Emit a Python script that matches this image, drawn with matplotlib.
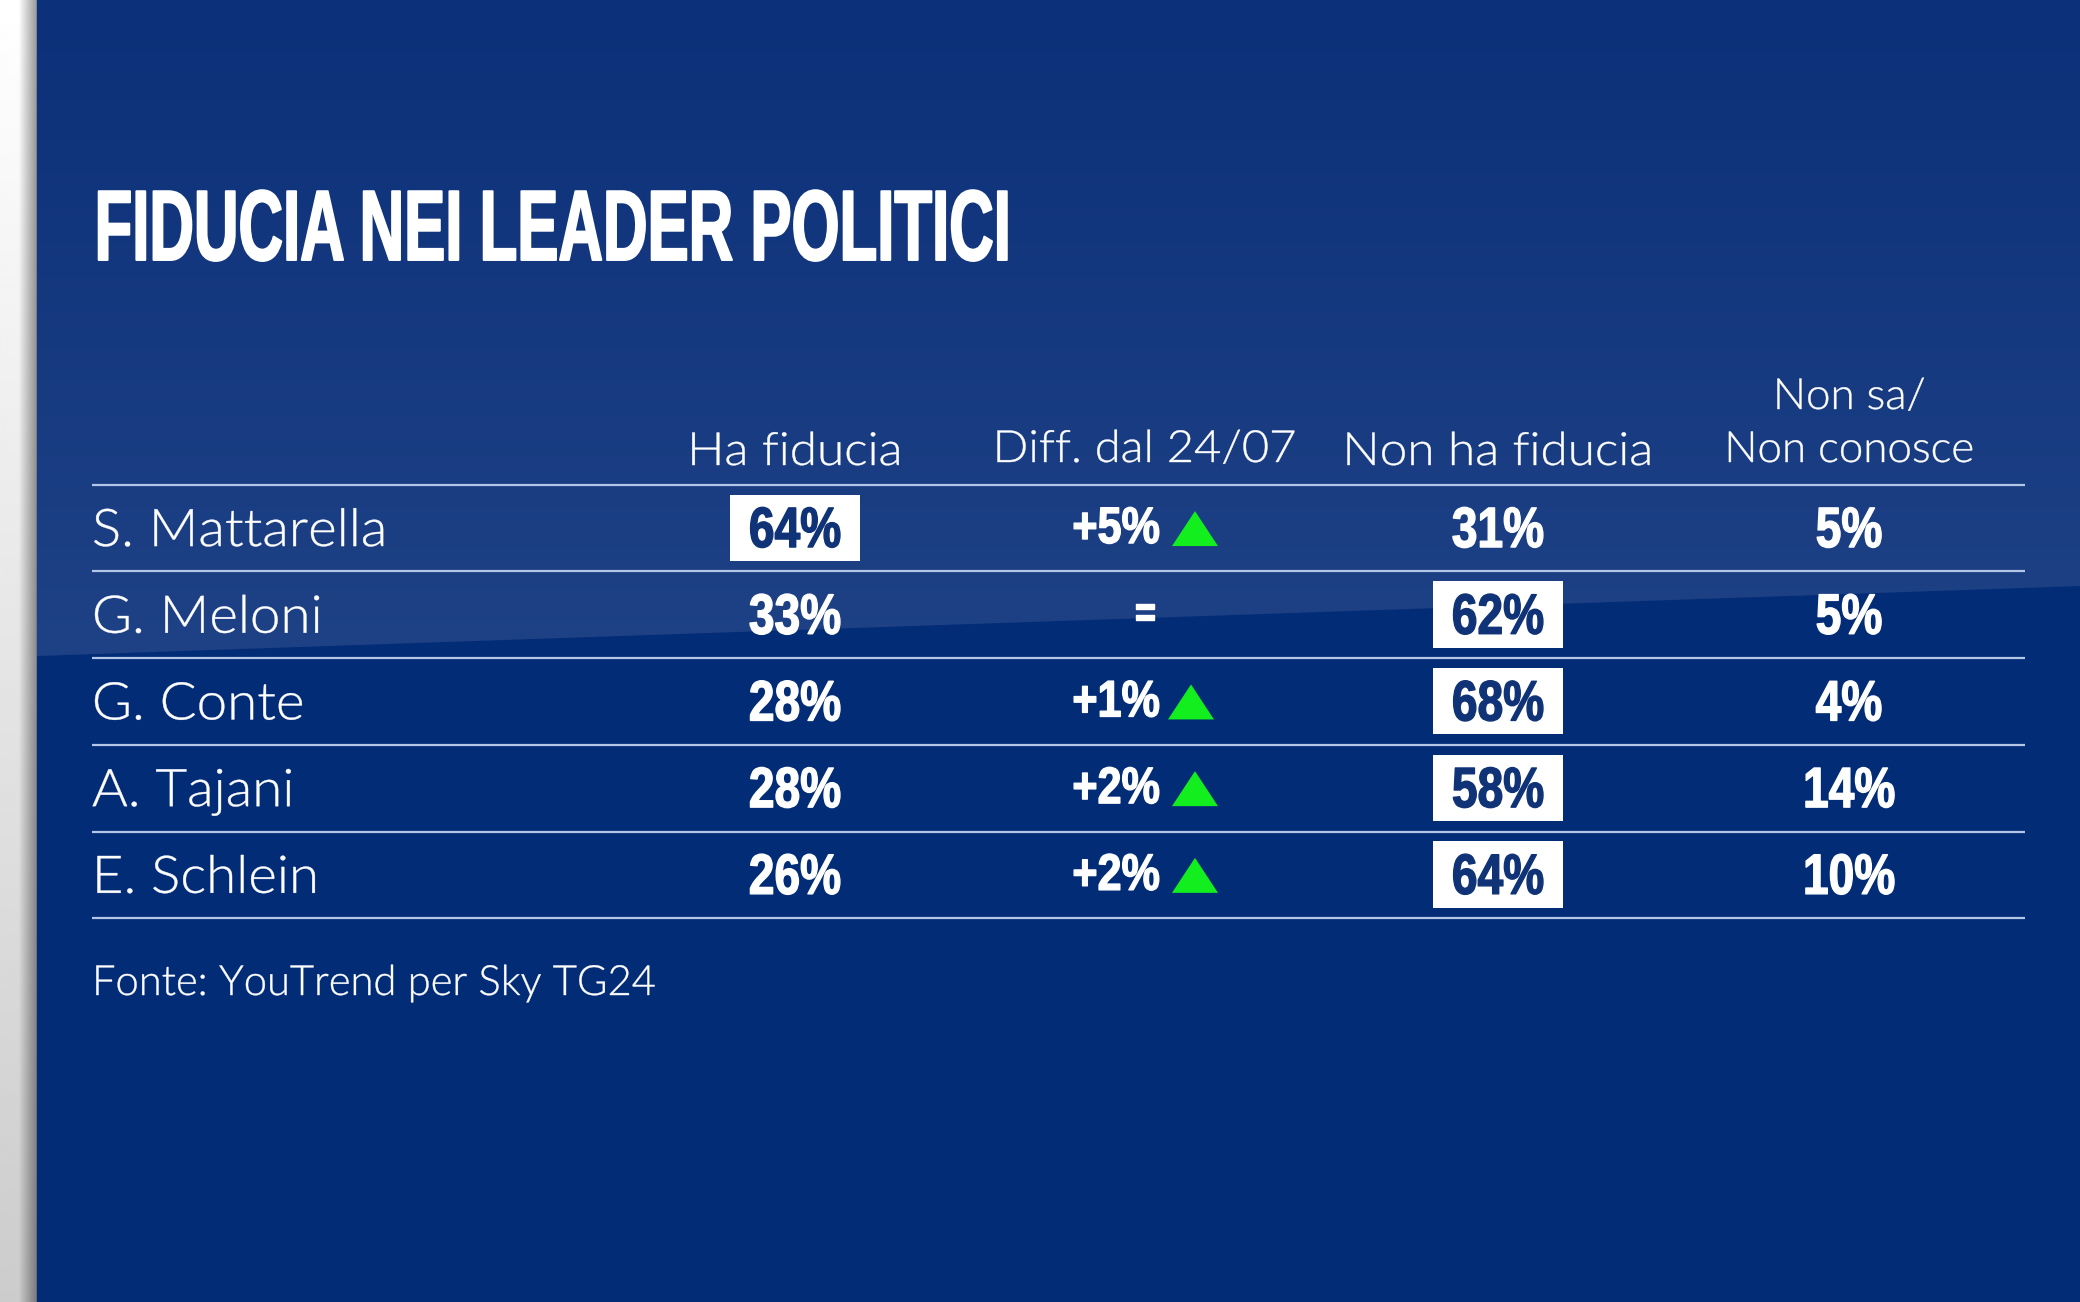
import numpy as np
from matplotlib import pyplot as plt
from matplotlib.patches import Polygon, Rectangle
from matplotlib.patheffects import AbstractPathEffect
from matplotlib.transforms import Affine2D

# table values
names = ["S. Mattarella", "G. Meloni", "G. Conte", "A. Tajani", "E. Schlein"]
ha_fiducia = [64, 33, 28, 28, 26]
diff = [5, 0, 1, 2, 2]
non_ha_fiducia = [31, 62, 68, 58, 64]
non_sa = [5, 5, 4, 14, 10]

title = "FIDUCIA NEI LEADER POLITICI"
source = "Fonte: YouTrend per Sky TG24"

W, H = 2080, 1302
PANEL_X = 37
LEFT, RIGHT = 92, 2025
ROW_TOP, ROW_H = 484.7, 86.7
COL_HA, COL_DIFF, COL_NON, COL_SA = 795, 1145, 1498, 1849

BOLD = "Liberation Sans"
LIGHT = "Lato"

DARK = "#032C77"
TEXT_DARK = "#0F3376"
LINE = "#B4C6E6"
GREEN = "#12EE1E"


class Squeeze(AbstractPathEffect):
    # no condensed font here, so squeeze the glyphs sideways and fatten them a bit
    def __init__(self, sx, stroke=0, centered=True):
        super().__init__()
        self.sx = sx
        self.stroke = stroke
        self.centered = centered

    def draw_path(self, renderer, gc, tpath, affine, rgbFace=None):
        ext = tpath.get_extents()
        cx = (ext.x0 + ext.x1) / 2 if self.centered else ext.x0
        t = Affine2D().translate(-cx, 0).scale(self.sx, 1).translate(cx, 0) + affine
        gc0 = renderer.new_gc()
        gc0.copy_properties(gc)
        gc0.set_linewidth(self.stroke)
        if self.stroke > 0:
            gc0.set_foreground(rgbFace)
        renderer.draw_path(gc0, tpath, t, rgbFace)
        gc0.restore()


fig = plt.figure(figsize=(W / 100, H / 100), dpi=100)
ax = fig.add_axes([0, 0, 1, 1])

# grey strip on the left, lighter at the top
strip = np.linspace(1.0, 0.80, 200)[:, None] * np.ones((200, 40))
strip[:, 20:] *= np.linspace(1, 0.72, 20) ** 1.5
ax.imshow(strip, extent=[0, PANEL_X, H, 0], cmap="gray", vmin=0, vmax=1, aspect="auto", zorder=0)

ax.add_patch(Rectangle((PANEL_X, 0), W - PANEL_X, H, color=DARK, zorder=1))

# lighter upper band with slanted lower edge
top_col = np.array([0x0C, 0x30, 0x79]) / 255
bot_col = np.array([0x1F, 0x42, 0x86]) / 255
grad = np.linspace(0, 1, 300)[:, None, None] * (bot_col - top_col) + top_col
im = ax.imshow(grad, extent=[PANEL_X, W, 660, 0], aspect="auto", zorder=2)
band = Polygon([(PANEL_X, 0), (W, 0), (W, 586), (PANEL_X, 656)], closed=True, transform=ax.transData)
im.set_clip_path(band)
ax.set_xlim(0, W)
ax.set_ylim(H, 0)
ax.axis("off")


def num_text(x, y, s, color="white", size=41, sx=0.81, stroke=1.0, ha="center"):
    ax.text(x, y, s, color=color, fontsize=size, family=BOLD, weight="bold",
            ha=ha, va="baseline", zorder=6, path_effects=[Squeeze(sx, stroke, ha == "center")])


def light_text(x, y, s, size=31, sx=1.0, ha="center"):
    ax.text(x, y, s, color="white", fontsize=size, family=LIGHT, weight=300,
            ha=ha, va="baseline", zorder=6, path_effects=[Squeeze(sx, 0.3, ha == "center")])


num_text(LEFT, 260, title, size=72, sx=0.617, stroke=1.4, ha="left")

light_text(COL_HA, 465, "Ha fiducia", size=33, sx=1.08)
light_text(COL_DIFF, 462, "Diff. dal 24/07", size=32, sx=1.06)
light_text(COL_NON, 465, "Non ha fiducia", size=33, sx=1.08)
light_text(COL_SA, 409, "Non sa/", size=31, sx=1.02)
light_text(COL_SA, 462, "Non conosce", size=31, sx=1.02)

for i in range(len(names) + 1):
    y = ROW_TOP + i * ROW_H
    ax.plot([LEFT, RIGHT], [y, y], color=LINE, lw=1.6, zorder=4, solid_capstyle="butt")

for i, name in enumerate(names):
    mid = ROW_TOP + (i + 0.5) * ROW_H
    light_text(LEFT, mid + 18, name, size=37.5, sx=1.05, ha="left")

    # the larger of the two answers sits in a white box
    if ha_fiducia[i] > non_ha_fiducia[i]:
        box_x, col_ha, col_non = COL_HA, TEXT_DARK, "white"
    else:
        box_x, col_ha, col_non = COL_NON, "white", TEXT_DARK
    ax.add_patch(Rectangle((box_x - 65, mid - 33.5), 130, 66.5, color="white", lw=0, zorder=5))

    num_text(COL_HA, mid + 19, f"{ha_fiducia[i]}%", color=col_ha)
    num_text(COL_NON, mid + 19, f"{non_ha_fiducia[i]}%", color=col_non)
    num_text(COL_SA, mid + 19, f"{non_sa[i]}%")

    if diff[i] == 0:
        num_text(COL_DIFF, mid + 11, "=", size=30, sx=0.85)
    else:
        num_text(COL_DIFF - 29, mid + 15, f"+{diff[i]}%", size=37, sx=0.84)
        tx = COL_DIFF + (46 if diff[i] == 1 else 50)
        ax.add_patch(Polygon([(tx - 23, mid + 18), (tx + 23, mid + 18), (tx, mid - 17)],
                             closed=True, color=GREEN, lw=0, zorder=6))

light_text(LEFT, 995, source, size=30, ha="left")

fig.savefig("out.png", dpi=100)
